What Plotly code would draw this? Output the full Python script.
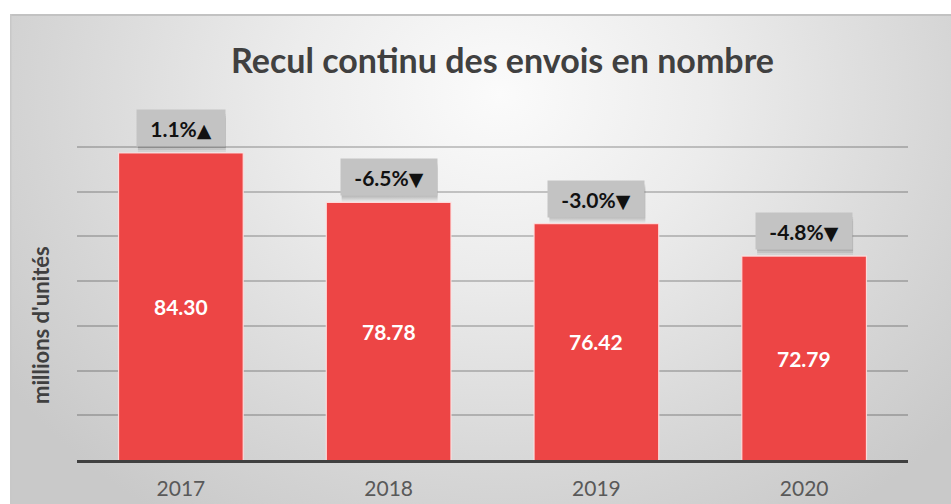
import base64
import plotly.graph_objects as go

years = ["2017", "2018", "2019", "2020"]
values = [84.30, 78.78, 76.42, 72.79]
pct_change = [1.1, -6.5, -3.0, -4.8]

title_text = "Recul continu des envois en nombre"
y_title = "millions d'unités"
y_min, y_max, y_step = 50, 90, 5

FONT = "Lato, 'Open Sans', sans-serif"

# plot area pixel geometry (for paper-coordinate conversions)
W, H = 951, 504
L, R, T, B = 77, 908, 102, 460
pw, ph = R - L, B - T

def px(x):
    return (x - L) / pw

def py(y):
    return (B - y) / ph

# background gradient as an SVG image
bw, bh = W - 10, H - 14
svg = f'''<svg xmlns="http://www.w3.org/2000/svg" width="{bw}" height="{bh}" viewBox="0 0 {bw} {bh}" preserveAspectRatio="none">
<defs>
<radialGradient id="g" gradientUnits="userSpaceOnUse" cx="490" cy="80" r="600" gradientTransform="translate(490 80) scale(1 0.85) translate(-490 -80)">
<stop offset="0" stop-color="#fbfbfb"/>
<stop offset="0.35" stop-color="#ececec"/>
<stop offset="0.75" stop-color="#d6d6d6"/>
<stop offset="1" stop-color="#c9c9c9"/>
</radialGradient>
</defs>
<rect x="0" y="0" width="{bw}" height="{bh}" fill="url(#g)"/>
<rect x="0" y="0" width="{bw}" height="2" fill="#c2c2c2"/>
<rect x="0" y="0" width="1.5" height="{bh}" fill="#c8c8c8"/>
</svg>'''
src = "data:image/svg+xml;base64," + base64.b64encode(svg.encode()).decode()

fig = go.Figure()
fig.add_trace(go.Bar(
    x=years,
    y=values,
    marker=dict(color="#ED4545", line=dict(color="rgba(255,225,225,0.9)", width=1.2)),
    hoverinfo="skip",
))

annotations = []
shapes = []
PAD = 4
BOX_H = 28
GAP = 6
for i, (v, p) in enumerate(zip(values, pct_change)):
    # value label centred in the visible part of the bar
    annotations.append(dict(
        x=i, y=(y_min + v) / 2, xref="x", yref="y", xanchor="center", yanchor="middle",
        text=f"{v:.2f}", showarrow=False,
        font=dict(family=FONT, size=21, color="white", weight="bold"),
    ))
    arrow = "▲" if p >= 0 else "▼"
    label = f"{p:.1f}%<span style='font-family:DejaVu Sans;font-size:19px'>{arrow}</span>"
    n = len(f"{p:.1f}%") + 1
    box_w = 8 * n + 40
    full_w = box_w + 2 * PAD
    full_h = BOX_H + 2 * PAD
    # soft shadow below the label box
    for dy, alpha in [(-5, 0.06), (-3, 0.08), (-1, 0.08)]:
        shapes.append(dict(
            type="rect", xref="x", yref="y",
            xsizemode="pixel", ysizemode="pixel", xanchor=i, yanchor=v,
            x0=-full_w / 2 + 1, x1=full_w / 2 + 1,
            y0=GAP + dy, y1=GAP + full_h + dy - 2,
            fillcolor=f"rgba(0,0,0,{alpha})", line=dict(width=0), layer="above",
        ))
    annotations.append(dict(
        x=i, y=v, xref="x", yref="y", yanchor="bottom", yshift=GAP,
        text=label, showarrow=False, width=box_w, height=BOX_H,
        font=dict(family=FONT, size=21, color="#111111", weight="bold"),
        bgcolor="#C3C3C3", borderpad=PAD,
    ))

annotations.append(dict(
    x=px(502), y=py(59), xref="paper", yref="paper", xanchor="center", yanchor="middle",
    text=title_text, showarrow=False,
    font=dict(family=FONT, size=34, color="#404040", weight="bold"),
))
annotations.append(dict(
    x=px(40), y=py(325), xref="paper", yref="paper", xanchor="center", yanchor="middle",
    text=y_title, showarrow=False, textangle=-90,
    font=dict(family=FONT, size=22, color="#404040", weight="bold"),
))

fig.update_layout(
    width=W, height=H,
    margin=dict(l=L, r=W - R, t=T, b=H - B, pad=0, autoexpand=False),
    paper_bgcolor="white",
    plot_bgcolor="rgba(0,0,0,0)",
    showlegend=False,
    bargap=0.4,
    annotations=annotations,
    shapes=shapes,
    images=[dict(
        source=src, xref="paper", yref="paper",
        x=px(10), y=py(14), sizex=(W - 10) / pw, sizey=(H - 14) / ph,
        xanchor="left", yanchor="top", sizing="stretch", layer="below",
    )],
    xaxis=dict(
        type="category", automargin=False, range=[-0.5, len(years) - 0.5], autorange=False,
        showline=True, linecolor="#404040", linewidth=3,
        ticks="outside", ticklen=8, tickcolor="rgba(0,0,0,0)",
        tickfont=dict(family=FONT, size=21, color="#595959"),
        showgrid=False,
    ),
    yaxis=dict(
        range=[y_min, y_max], autorange=False, dtick=y_step, tick0=y_min, automargin=False,
        showticklabels=False, ticks="",
        showgrid=True, gridcolor="rgba(0,0,0,0.2)", gridwidth=1.5,
        zeroline=False, showline=False,
    ),
)

fig.write_html("out.html", config={"displayModeBar": False},
               post_script="document.body.style.margin='0';")
